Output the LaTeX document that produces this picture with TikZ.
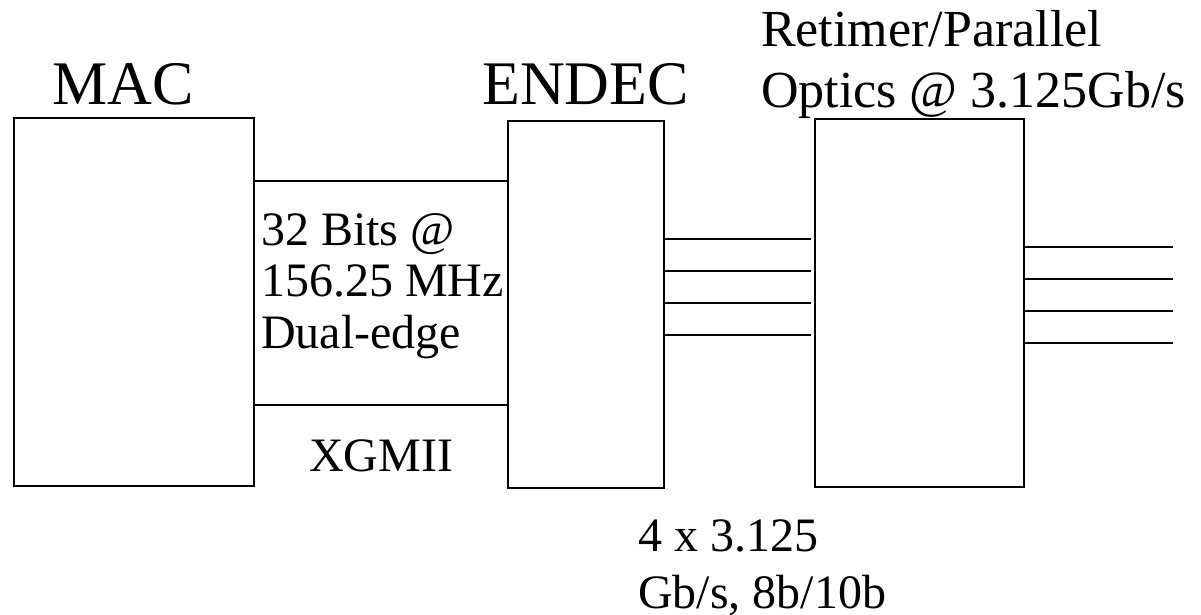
\documentclass[tikz,border=0pt]{standalone}
\usepackage{fontspec}
\setmainfont{Liberation Serif}
\usetikzlibrary{positioning}

\begin{document}
\begin{tikzpicture}[
  x=1pt, y=-1pt,
  block/.style={draw=black, line width=2pt, inner sep=0pt, anchor=north west},
  title/.style={font=\fontsize{62}{66}\selectfont, inner sep=0pt, anchor=base west},
  note/.style={font=\fontsize{48}{51.5}\selectfont, inner sep=0pt, anchor=base west, align=left},
  wire/.style={line width=2pt}
]
\useasboundingbox (0,0) rectangle (1201,615);

% the three blocks, sized in pixels of the reference
\node[block, minimum width=240pt, minimum height=368pt] (mac) at (13,117) {};
\node[block, minimum width=156pt, minimum height=367pt] (endec) at (507,120) {};
\node[block, minimum width=209pt, minimum height=368pt] (retimer) at (814,118) {};

\node[title] (mactitle) at (52,105) {MAC};
\node[title] (endectitle) at (482,105) {ENDEC};
% multi-line notes are placed by the baseline of their last line
\node[note, font=\fontsize{52}{60}\selectfont] (retimertitle) at (761,107)
  {Retimer/Parallel\\Optics @ 3.125Gb/s};

% XGMII bus between MAC and ENDEC
\coordinate (bustop) at (0,181);
\coordinate (busbot) at (0,405);
\draw[wire] (mac.east |- bustop) -- (endec.west |- bustop);
\draw[wire] (mac.east |- busbot) -- (endec.west |- busbot);
\node[note] (buslabel) at (261,348) {32 Bits @\\156.25 MHz\\Dual-edge};
\node[note] (xgmii) at (309,471) {XGMII};

% four serial lanes
\foreach \y in {239,271,303,335}
  \draw[wire, shorten >=3pt] (endec.east |- 0,\y) -- (retimer.west |- 0,\y);
\node[note, font=\fontsize{48}{57}\selectfont] (lanelabel) at (638,608)
  {4 x 3.125\\Gb/s, 8b/10b};

% optical outputs
\coordinate (fiberend) at (1173,0);
\foreach \y in {247,279,311,343}
  \draw[wire] (retimer.east |- 0,\y) -- (fiberend |- 0,\y);

\end{tikzpicture}
\end{document}
